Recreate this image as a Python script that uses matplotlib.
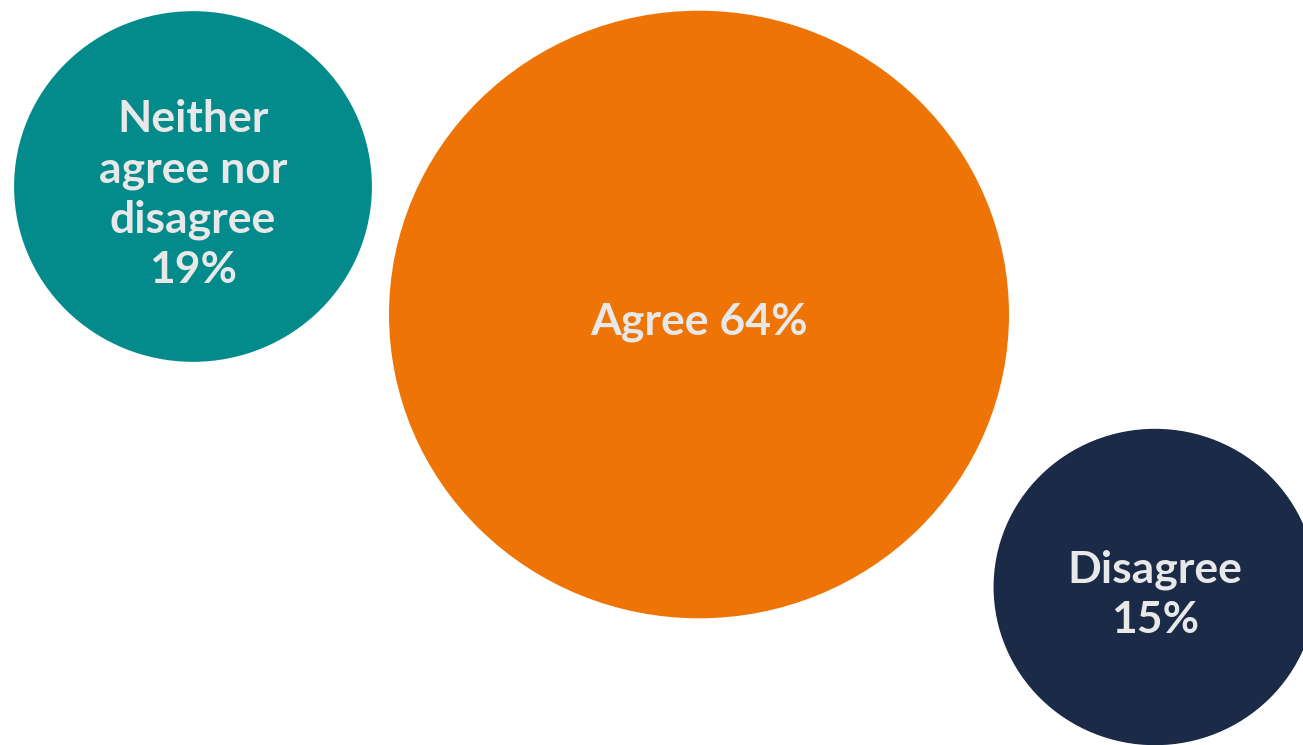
import matplotlib.pyplot as plt
from matplotlib.patches import Ellipse
import numpy as np

# Dados
labels = ['Neither\nagree nor\ndisagree', 'Agree', 'Disagree']
values = [19, 64, 15]
colors = ['#038a8a', '#ee7405', '#1a2a47']

# Layout (pixels)
centers = [(193, 186.5), (699, 314.5), (1155, 587)]
squash = 0.98  # bolhas ligeiramente achatadas


def raio(v):
    # raio em px a partir do valor (escala por area)
    return 22 + 36 * np.sqrt(v)


fig = plt.figure(figsize=(13.03, 7.45), dpi=100)
ax = fig.add_axes([0, 0, 1, 1])
ax.set_xlim(0, 1303)
ax.set_ylim(745, 0)
ax.axis('off')

for lab, v, c, (x, y) in zip(labels, values, colors, centers):
    r = raio(v)
    ax.add_patch(Ellipse((x, y), 2 * r, 2 * r * squash, color=c, lw=0))
    if lab == 'Agree':
        txt = f'{lab} {v}%'
    else:
        txt = f'{lab}\n{v}%'
    ax.text(x, y + 8, txt, ha='center', va='center', color='#e8e8e8',
            fontsize=32, fontweight='bold', family='Lato', linespacing=1.3)

fig.savefig('out.png', dpi=100)
